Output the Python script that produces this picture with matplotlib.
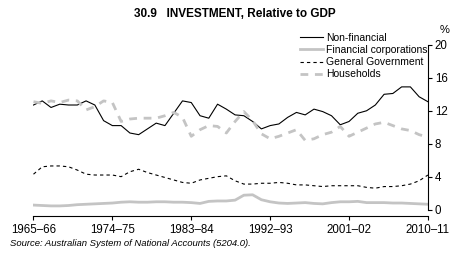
import numpy as np
import matplotlib
matplotlib.use("Agg")
import matplotlib.pyplot as plt

plt.rcParams['font.family'] = ['Liberation Sans', 'DejaVu Sans']

years = np.arange(1965, 2011)
tick_years = [1965, 1974, 1983, 1992, 2001, 2010]
tick_labels = ['1965–66', '1974–75', '1983–84', '1992–93', '2001–02', '2010–11']

non_financial = [12.7, 13.2, 12.4, 12.8, 12.7, 12.7, 13.2, 12.7, 10.8, 10.2,
                 10.2, 9.3, 9.1, 9.8, 10.5, 10.2, 11.7, 13.2, 13.0, 11.4,
                 11.1, 12.8, 12.2, 11.5, 11.4, 10.7, 9.8, 10.2, 10.4, 11.2,
                 11.8, 11.5, 12.2, 11.9, 11.4, 10.3, 10.7, 11.7, 12.0, 12.7,
                 14.0, 14.1, 14.9, 14.9, 13.7, 13.1]
financial = [0.55, 0.5, 0.45, 0.45, 0.5, 0.6, 0.65, 0.7, 0.75, 0.8,
             0.9, 0.95, 0.9, 0.9, 0.95, 0.95, 0.9, 0.9, 0.85, 0.75,
             1.0, 1.05, 1.05, 1.15, 1.75, 1.8, 1.2, 0.95, 0.8, 0.75,
             0.8, 0.85, 0.75, 0.7, 0.85, 0.95, 0.95, 1.0, 0.85, 0.85,
             0.85, 0.8, 0.8, 0.75, 0.7, 0.65]
general_gov = [4.3, 5.2, 5.3, 5.3, 5.2, 4.8, 4.3, 4.2, 4.2, 4.2,
               4.0, 4.6, 4.9, 4.5, 4.2, 3.9, 3.6, 3.3, 3.2, 3.6,
               3.8, 4.0, 4.1, 3.5, 3.1, 3.1, 3.2, 3.2, 3.3, 3.2,
               3.0, 3.0, 2.9, 2.8, 2.9, 2.9, 2.9, 2.9, 2.7, 2.6,
               2.8, 2.8, 2.9, 3.1, 3.5, 4.2]
households = [13.1, 12.9, 13.2, 13.0, 13.3, 13.2, 12.1, 12.5, 13.2, 13.0,
              10.7, 11.0, 11.1, 11.1, 11.1, 11.4, 11.8, 11.2, 8.9, 9.7,
              10.2, 10.1, 9.3, 10.7, 11.9, 10.8, 9.2, 8.6, 8.9, 9.3,
              9.7, 8.4, 8.6, 9.1, 9.4, 10.1, 8.9, 9.4, 9.9, 10.4,
              10.6, 10.2, 9.8, 9.6, 9.1, 8.8]

fig = plt.figure(figsize=(4.69, 2.64), dpi=100)
ax = fig.add_axes([0.0714, 0.206, 0.841, 0.624])

ax.plot(years, non_financial, color='black', lw=0.8, label='Non-financial')
ax.plot(years, financial, color='#c4c4c4', lw=2.0, label='Financial corporations')
ax.plot(years, general_gov, color='black', lw=0.8, dashes=(3, 2.8), label='General Government')
ax.plot(years, households, color='#c4c4c4', lw=2.0, dashes=(2.8, 2.4), label='Households')

# spines first - set_position resets the ticks
for s in ['top', 'left']:
    ax.spines[s].set_visible(False)
ax.spines['bottom'].set_position(('outward', 4.6))
ax.spines['bottom'].set_bounds(1965, 2010)
ax.spines['right'].set_bounds(0, 20)
ax.spines['bottom'].set_linewidth(0.8)
ax.spines['right'].set_linewidth(0.8)

ax.set_xlim(1965, 2010)
ax.set_ylim(0, 20)
ax.set_xticks(tick_years)
ax.set_xticklabels(tick_labels)
ax.set_yticks(range(0, 21, 4))
ax.yaxis.tick_right()
ax.tick_params(axis='y', labelsize=8.3, length=3, width=0.8, pad=2)
ax.tick_params(axis='x', labelsize=8.3, length=3, width=0.8, pad=3)

fig.text(0.938, 0.886, '%', fontsize=8, ha='left', va='center')

ax.legend(loc='upper left', bbox_to_anchor=(300 / 469, 231 / 264), bbox_transform=fig.transFigure,
          frameon=False, fontsize=7.5, handlelength=2.2, handletextpad=0.3,
          labelspacing=0.2, borderpad=0, borderaxespad=0)

fig.text(0.5, 0.947, '30.9   INVESTMENT, Relative to GDP', ha='center', va='center',
         fontsize=8.5, fontweight='bold')
fig.text(0.021, 0.078, 'Source: Australian System of National Accounts (5204.0).',
         fontsize=6.8, style='italic', va='center')

fig.savefig('out.png', dpi=100)
